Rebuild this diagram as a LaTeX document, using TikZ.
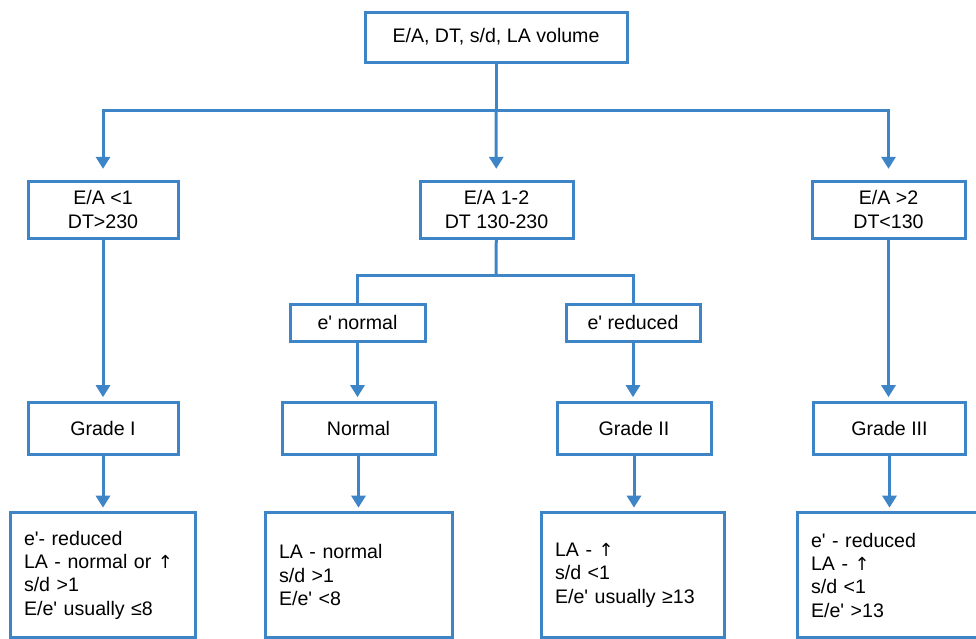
\documentclass[tikz,border=0pt]{standalone}
\usepackage{fontspec}
\setmainfont{Liberation Sans}[Ligatures=TeXOff]
\newfontfamily\arrowfont{DejaVu Sans}
\usepackage{tikz}
\usetikzlibrary{arrows.meta,positioning,calc}
\definecolor{diablue}{RGB}{61,133,198}
\newcommand{\dfont}{\fontsize{14.7}{17.5}\selectfont}
\newcommand{\up}{{\arrowfont\fontsize{13.5}{17.5}\selectfont ↑}}

\begin{document}
\begin{tikzpicture}[
  x=0.75pt,y=-0.75pt,
  box/.style={draw=diablue,line width=2.25pt,fill=white,align=center,
              font=\dfont,inner sep=0pt},
  note/.style={box,align=left,inner xsep=10.5pt,minimum height=93.75pt},
  link/.style={line width=2.25pt,diablue},
  arr/.style={link,-{Triangle[width=10.5pt,length=9pt]},shorten >=2.5pt}
]
\useasboundingbox (0,0) rectangle (976,639);
% question boxes
\node[box,minimum width=196.5pt,minimum height=37.5pt] (params) at (496,37)
  {E/A, DT, s/d, LA volume};
\node[box,minimum width=112.5pt,minimum height=42.75pt] (ea1) at (103,209.5)
  {E/A <1\\DT>230};
\node[box,minimum width=114.75pt,minimum height=42.75pt] (ea12) at (496.5,209.5)
  {E/A 1-2\\DT 130-230};
\node[box,minimum width=114.75pt,minimum height=42.75pt] (ea2) at (888.5,209.5)
  {E/A >2\\DT<130};
\node[box,minimum width=101.25pt,minimum height=27.75pt] (enorm) at (357.5,322.5)
  {e' normal};
\node[box,minimum width=100.5pt,minimum height=27.75pt] (ered) at (633,322.5)
  {e' reduced};
% grades
\node[box,minimum width=112.5pt,minimum height=39pt] (grade1) at (103,428) {Grade I};
\node[box,minimum width=114.75pt,minimum height=39pt] (normal) at (358.5,428) {Normal};
\node[box,minimum width=115.5pt,minimum height=39pt] (grade2) at (634,428) {Grade II};
\node[box,minimum width=114pt,minimum height=39pt] (grade3) at (889.5,428) {Grade III};
% findings
\node[note,text width=117.75pt] (sum1) at (102.5,575)
  {e'- reduced\\LA - normal or \up\\s/d >1\\E/e' usually ≤8};
\node[note,text width=119.25pt] (sum2) at (358.5,575)
  {LA - normal\\s/d >1\\E/e' <8};
\node[note,text width=116.25pt] (sum3) at (632.5,575)
  {LA - \up\\s/d <1\\E/e' usually ≥13};
\node[note,text width=116.25pt] (sum4) at (888.5,575)
  {e' - reduced\\LA - \up\\s/d <1\\E/e' >13};
% connectors
\coordinate (split1) at (496,110);
\coordinate (split2) at (496,275);
\draw[link] (params) -- (split1);
\draw[arr,shorten >=8pt] (split1) -| (ea1);
\draw[arr,shorten >=8pt] (split1) -- (ea12);
\draw[arr,shorten >=8pt] (split1) -| (ea2);
\draw[link] (ea12) -- (split2);
\draw[link] (split2) -| (enorm);
\draw[link] (split2) -| (ered);
\draw[arr] (ea1) -- (ea1 |- grade1.north);
\draw[arr] (enorm) -- (enorm |- normal.north);
\draw[arr] (ered) -- (ered |- grade2.north);
\draw[arr] (ea2) -- (ea2 |- grade3.north);
\draw[arr] (grade1) -- (grade1 |- sum1.north);
\draw[arr] (normal) -- (normal |- sum2.north);
\draw[arr] (grade2) -- (grade2 |- sum3.north);
\draw[arr] (grade3) -- (grade3 |- sum4.north);
\end{tikzpicture}
\end{document}
